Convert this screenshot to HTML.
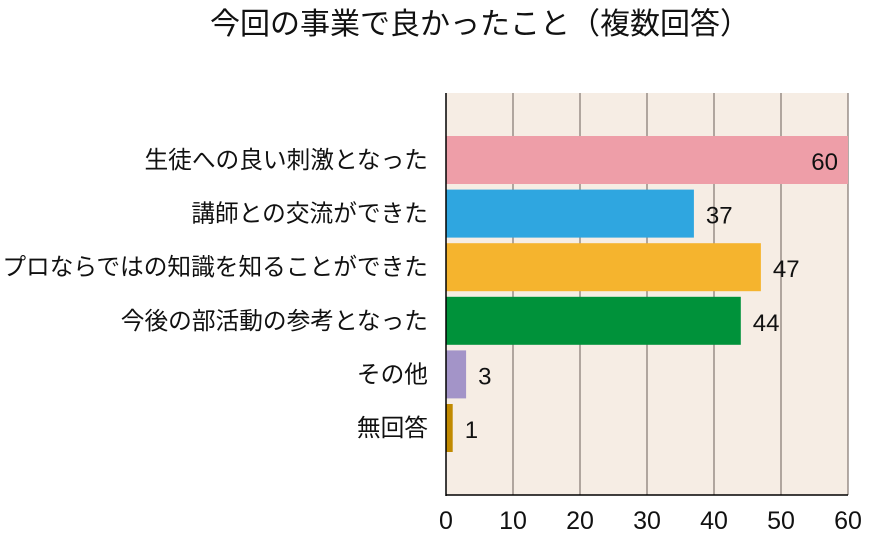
<!DOCTYPE html>
<html><head><meta charset="utf-8"><style>
body{margin:0;background:#fff;width:870px;height:532px;overflow:hidden;font-family:"Liberation Sans","Noto Sans CJK JP",sans-serif}
</style></head><body>
<svg width="870" height="532" font-family="'Liberation Sans','Noto Sans CJK JP',sans-serif">
<text x="480" y="34" text-anchor="middle" font-size="30" fill="#111">今回の事業で良かったこと（複数回答）</text>
<g id="plot"></g>
</svg>
<script>
const categories=["生徒への良い刺激となった","講師との交流ができた","プロならではの知識を知ることができた","今後の部活動の参考となった","その他","無回答"];
const values=[60,37,47,44,3,1];
const colors=["#ee9ea8","#2fa6e0","#f5b42e","#00923a","#a394c8","#c18a00"];
const ticks=[0,10,20,30,40,50,60];
const X0=446,X1=848,Y0=93,Y1=495,MAX=60;
const xs=v=>X0+(X1-X0)*v/MAX;
const pitch=53.6,bh=48,top0=136;
const ys=i=>top0+i*pitch;
const g=document.getElementById('plot');
const NS="http://www.w3.org/2000/svg";
function mk(t,a){const e=document.createElementNS(NS,t);for(const k in a)e.setAttribute(k,a[k]);g.appendChild(e);return e;}
let bg=mk('rect',{x:X0,y:Y0,width:X1-X0,height:Y1-Y0,fill:'#f6ede4'});


ticks.forEach(t=>{if(t>0){let l=mk('line',{x1:xs(t),x2:xs(t),y1:Y0,y2:Y1,stroke:'#8a7f78','stroke-width':1.3});

}
let tx=mk('text',{x:xs(t),y:Y1+34,'text-anchor':'middle','font-size':25,fill:'#111'});tx.textContent=t;

});
categories.forEach((c,i)=>{
 const y=ys(i),v=values[i];
 let r=mk('rect',{x:X0,y:y,width:xs(v)-X0,height:bh,fill:colors[i]});
 
 
 let lb=mk('text',{x:428,y:y+bh/2+8,'text-anchor':'end','font-size':23.7,fill:'#111'});lb.textContent=c;
 
 
 const inside=v>=MAX*0.9;
 let vl=mk('text',{x:inside?xs(v)-10:xs(v)+12,y:y+bh/2+10,'text-anchor':inside?'end':'start','font-size':24,fill:'#111'});vl.textContent=v;
 
 
});
let ax=mk('line',{x1:X0,x2:X0,y1:Y0,y2:Y1+1,stroke:'#000','stroke-width':1.5});


let bx=mk('line',{x1:X0,x2:X1,y1:Y1,y2:Y1,stroke:'#000','stroke-width':1.5});


</script>
</body></html>
